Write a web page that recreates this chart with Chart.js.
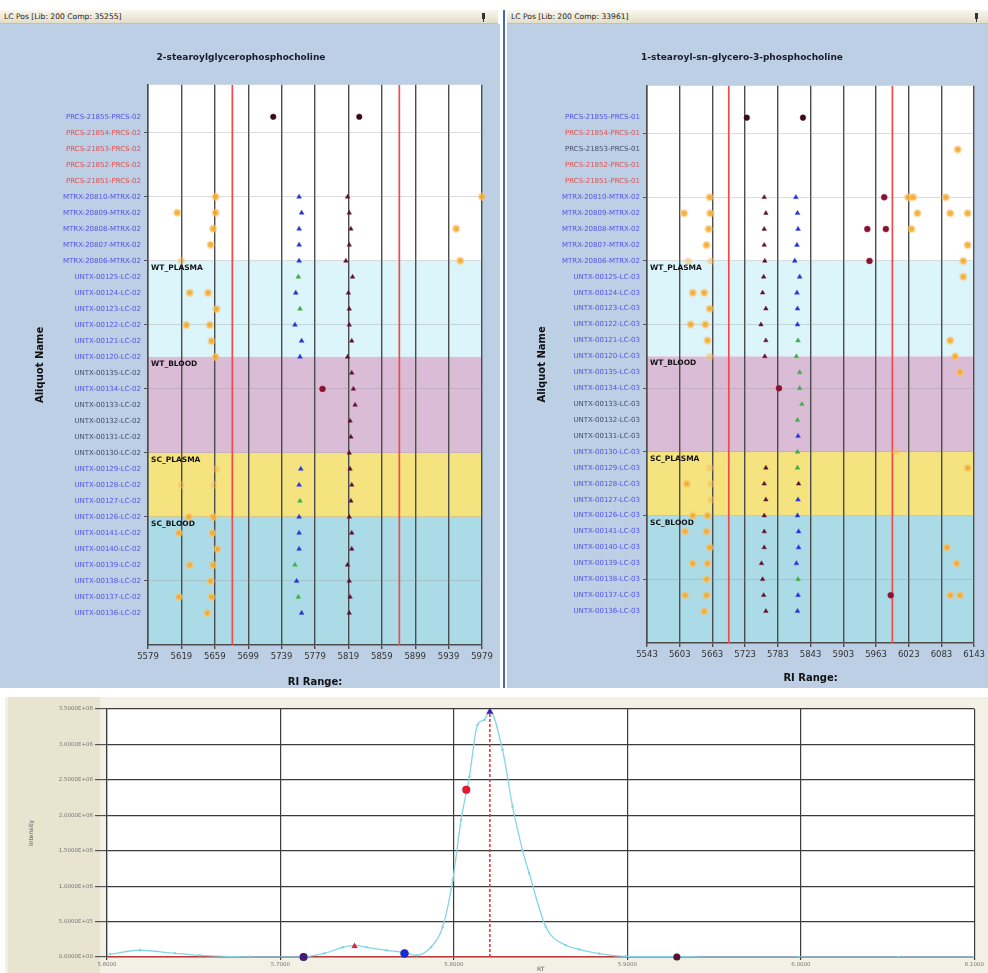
<!DOCTYPE html>
<html>
<head>
<meta charset="utf-8">
<title>LC Pos</title>
<script src="https://cdn.jsdelivr.net/npm/chart.js@4.4.1/dist/chart.umd.min.js"></script>
<style>
  body { margin: 0; width: 988px; height: 973px; background: #fff; position: relative; overflow: hidden;
         font-family: "DejaVu Sans", Verdana, sans-serif; }
  .bar { position: absolute; top: 10px; height: 14px; box-sizing: border-box; padding-left: 4px;
         background: linear-gradient(#f9f7ef, #e3dec9); border-bottom: 1px solid #c8c0a4;
         font-size: 7.6px; line-height: 14px; color: #222; }
  .pin { position: absolute; top: 3px; width: 3px; height: 6px; background: #333; }
  .pin::after { content: ""; position: absolute; left: 1px; top: 6px; width: 1px; height: 3px; background: #333; }
  .panel { position: absolute; top: 24px; height: 664px; background: #bccfe5; }
  canvas { position: absolute; }
</style>
</head>
<body>

<div class="panel" style="left:0;width:500px"></div>
<div class="bar" style="left:0;width:498px">LC Pos [Lib: 200 Comp: 35255]<span class="pin" style="left:482px"></span></div>
<div style="position:absolute;left:503px;top:10px;width:2px;height:678px;background:#4168b8"></div>
<div class="panel" style="left:507px;width:481px"></div>
<div class="bar" style="left:507px;width:481px">LC Pos [Lib: 200 Comp: 33961]<span class="pin" style="left:468px"></span></div>

<div style="position:absolute;left:5px;top:697px;width:983px;height:276px;background:#f3f1e6"></div>
<div style="position:absolute;left:8px;top:697px;width:92px;height:276px;background:#e8e4d0"></div>

<canvas id="left" width="500" height="664" style="left:0;top:24px"></canvas>
<canvas id="right" width="481" height="664" style="left:507px;top:24px"></canvas>
<canvas id="rt" width="977" height="276" style="left:8px;top:697px"></canvas>

<script>
const FONT = '"DejaVu Sans", Verdana, sans-serif';
Chart.defaults.font.family = FONT;

// ---- aliquot rows (top to bottom) ----
const leftAliquots = [
  'PRCS-21855-PRCS-02', 'PRCS-21854-PRCS-02', 'PRCS-21853-PRCS-02', 'PRCS-21852-PRCS-02', 'PRCS-21851-PRCS-02',
  'MTRX-20810-MTRX-02', 'MTRX-20809-MTRX-02', 'MTRX-20808-MTRX-02', 'MTRX-20807-MTRX-02', 'MTRX-20806-MTRX-02',
  'UNTX-00125-LC-02', 'UNTX-00124-LC-02', 'UNTX-00123-LC-02', 'UNTX-00122-LC-02', 'UNTX-00121-LC-02', 'UNTX-00120-LC-02',
  'UNTX-00135-LC-02', 'UNTX-00134-LC-02', 'UNTX-00133-LC-02', 'UNTX-00132-LC-02', 'UNTX-00131-LC-02', 'UNTX-00130-LC-02',
  'UNTX-00129-LC-02', 'UNTX-00128-LC-02', 'UNTX-00127-LC-02', 'UNTX-00126-LC-02',
  'UNTX-00141-LC-02', 'UNTX-00140-LC-02', 'UNTX-00139-LC-02', 'UNTX-00138-LC-02', 'UNTX-00137-LC-02', 'UNTX-00136-LC-02'
];
const rightAliquots = [
  'PRCS-21855-PRCS-01', 'PRCS-21854-PRCS-01', 'PRCS-21853-PRCS-01', 'PRCS-21852-PRCS-01', 'PRCS-21851-PRCS-01',
  'MTRX-20810-MTRX-02', 'MTRX-20809-MTRX-02', 'MTRX-20808-MTRX-02', 'MTRX-20807-MTRX-02', 'MTRX-20806-MTRX-02',
  'UNTX-00125-LC-03', 'UNTX-00124-LC-03', 'UNTX-00123-LC-03', 'UNTX-00122-LC-03', 'UNTX-00121-LC-03', 'UNTX-00120-LC-03',
  'UNTX-00135-LC-03', 'UNTX-00134-LC-03', 'UNTX-00133-LC-03', 'UNTX-00132-LC-03', 'UNTX-00131-LC-03', 'UNTX-00130-LC-03',
  'UNTX-00129-LC-03', 'UNTX-00128-LC-03', 'UNTX-00127-LC-03', 'UNTX-00126-LC-03',
  'UNTX-00141-LC-03', 'UNTX-00140-LC-03', 'UNTX-00139-LC-03', 'UNTX-00138-LC-03', 'UNTX-00137-LC-03', 'UNTX-00136-LC-03'
];
// rows whose name is shown red (excluded) or dark
const leftRedRows = [2, 3, 4, 5];
const leftDarkRows = [17, 19, 20, 21, 22];
const rightRedRows = [2, 4, 5];
const rightDarkRows = [3, 19, 20, 21];
const markedRows = [2, 6, 10, 14, 18, 22, 26, 30];

// sample groups: first row of each group
const groupStarts = [10, 16, 22, 26];
const groupNames = ['WT_PLASMA', 'WT_BLOOD', 'SC_PLASMA', 'SC_BLOOD'];
const groupColors = ['#dcf5fa', '#dbbcd7', '#f5e37f', '#abdbe7'];

// ---- RI axes ----
const leftRiTicks = [5579, 5619, 5659, 5699, 5739, 5779, 5819, 5859, 5899, 5939, 5979];
const rightRiTicks = [5543, 5603, 5663, 5723, 5783, 5843, 5903, 5963, 6023, 6083, 6143];
const leftRiWindow = [5680, 5880];
const rightRiWindow = [5693, 5993];

// ---- left compound: [row, RI] ----
const leftOrange = [
  [6, 5660], [6, 5979], [7, 5614], [7, 5660], [8, 5657], [8, 5948], [9, 5654], [10, 5953],
  [12, 5629], [12, 5651], [13, 5661], [14, 5625], [14, 5653], [15, 5655], [16, 5660],
  [26, 5628], [26, 5657], [27, 5616], [27, 5656], [28, 5662], [29, 5629], [29, 5657],
  [30, 5654], [31, 5616], [31, 5655], [32, 5650]
];
const leftOrangeFaint = [[10, 5619], [23, 5661], [24, 5619], [24, 5658]];
const leftBlue = [
  [6, 5760], [7, 5763], [8, 5760], [9, 5760], [10, 5760], [12, 5756], [14, 5755], [15, 5763], [16, 5761],
  [23, 5762], [24, 5760], [26, 5760], [27, 5760], [28, 5760], [30, 5757], [32, 5763]
];
const leftGreen = [[11, 5759], [13, 5761], [25, 5761], [29, 5755], [31, 5759]];
const leftDark = [
  [6, 5818], [7, 5820], [8, 5822], [9, 5820], [10, 5816], [11, 5824], [12, 5819], [13, 5820], [14, 5820],
  [15, 5823], [16, 5818], [17, 5823], [18, 5825], [19, 5827], [20, 5821], [21, 5822], [22, 5820], [23, 5821],
  [24, 5823], [25, 5822], [26, 5820], [27, 5823], [28, 5823], [29, 5818], [30, 5820], [31, 5821], [32, 5820]
];
const leftBlack = [[1, 5729], [1, 5832]];
const leftRed = [[18, 5788]];

// ---- right compound: [row, RI] ----
const rightOrange = [
  [3, 6113], [6, 5658], [6, 6022], [6, 6031], [6, 6091], [7, 5611], [7, 5659], [7, 6039], [7, 6099], [7, 6131],
  [8, 5656], [8, 6028], [9, 5652], [9, 6131], [10, 6123], [11, 6123], [12, 5627], [12, 5648], [13, 5658],
  [14, 5623], [14, 5650], [15, 5654], [15, 6099], [16, 6108], [17, 6117], [23, 6131], [24, 5616],
  [26, 5627], [26, 5654], [27, 5613], [27, 5652], [28, 5658], [28, 6093], [29, 5627], [29, 5654], [29, 6111],
  [30, 5652], [31, 5613], [31, 5652], [31, 6099], [31, 6117], [32, 5648]
];
const rightOrangeFaint = [[10, 5619], [10, 5660], [16, 5658], [22, 6000], [23, 5658], [24, 5660], [25, 5660]];
const rightBlue = [
  [6, 5816], [7, 5819], [8, 5820], [9, 5818], [10, 5814], [11, 5823], [12, 5818], [13, 5819], [14, 5819],
  [21, 5820], [25, 5820], [26, 5819], [27, 5821], [28, 5821], [29, 5817], [31, 5820], [32, 5819]
];
const rightGreen = [[15, 5820], [16, 5817], [17, 5823], [18, 5823], [19, 5827], [20, 5819], [22, 5819], [23, 5819], [30, 5820]];
const rightDark = [
  [6, 5758], [7, 5761], [8, 5758], [9, 5758], [10, 5759], [11, 5757], [12, 5755], [13, 5761], [14, 5752],
  [15, 5761], [16, 5759], [23, 5761], [24, 5758], [24, 5821], [25, 5761], [26, 5758], [27, 5758], [28, 5758],
  [29, 5753], [30, 5755], [31, 5757], [32, 5761]
];
const rightBlack = [[1, 5726], [1, 5829]];
const rightRed = [[6, 5978], [8, 5947], [8, 5981], [10, 5951], [18, 5785], [31, 5990]];

// ---- RT trace ----
const rtTicks = [5.6, 5.7, 5.8, 5.9, 6.0, 6.1];
const intensityTicks = [0, 5e5, 1e6, 1.5e6, 2e6, 2.5e6, 3e6, 3.5e6];
const traceRt = [
  5.6017, 5.6190, 5.6391, 5.6535, 5.6823, 5.7110, 5.7254, 5.7358, 5.7427, 5.7496, 5.7611, 5.7726,
  5.7784, 5.7868, 5.7935, 5.7993, 5.8041, 5.8089, 5.8136, 5.8175, 5.8207, 5.8280, 5.8338, 5.8395,
  5.8434, 5.8530, 5.8645, 5.8722, 5.8837, 5.8992, 5.9413, 5.9987, 6.0563, 6.0994
];
const traceIntensity = [
  38e3, 95e3, 52e3, 24e3, 3e3, 0, 52e3, 137e3, 165e3, 137e3, 95e3, 57e3,
  24e3, 141e3, 424e3, 1085e3, 1934e3, 2546e3, 3277e3, 3348e3, 3465e3, 2924e3, 2122e3, 1509e3,
  1180e3, 424e3, 165e3, 109e3, 48e3, 10e3, 3e3, 0, 0, 0
];
const peakRt = 5.8207;
const rtPurple = [[5.7133, 0]];
const rtRedTri = [[5.7427, 150e3]];
const rtBlueDot = [[5.7715, 50e3]];
const rtRedDot = [[5.8071, 2.36e6]];
const rtBlueTri = [[5.8207, 3.46e6]];
const rtDarkDot = [[5.9285, 0]];

// white plot area behind the grid
const whitePlot = {
  id: 'whitePlot',
  beforeDraw(chart) {
    const { ctx, chartArea: a } = chart;
    ctx.save();
    ctx.fillStyle = '#ffffff';
    ctx.fillRect(a.left, a.top, a.width, a.height);
    ctx.restore();
  }
};

// coloured sample-group bands with their names
const groupBands = {
  id: 'groupBands',
  beforeDraw(chart, args, opts) {
    const { ctx, chartArea: a, scales: { y } } = chart;
    ctx.save();
    opts.starts.forEach((s, i) => {
      const top = y.getPixelForValue(s);
      const bottom = i + 1 < opts.starts.length ? y.getPixelForValue(opts.starts[i + 1]) : a.bottom;
      ctx.fillStyle = opts.colors[i];
      ctx.fillRect(a.left, top, a.width, bottom - top);
    });
    ctx.restore();
  },
  beforeDatasetsDraw(chart, args, opts) {
    const { ctx, chartArea: a, scales: { y } } = chart;
    ctx.save();
    ctx.font = 'bold 7.5px ' + FONT;
    ctx.fillStyle = '#111';
    ctx.textBaseline = 'middle';
    opts.starts.forEach((s, i) => ctx.fillText(opts.names[i], a.left + 3, y.getPixelForValue(s) + 7));
    ctx.restore();
  }
};

const pts = (pairs, style) => Object.assign({ data: pairs.map(([r, v]) => ({ x: v, y: r })), clip: false, order: 0 }, style);

const sOrange = { pointStyle: 'circle', pointRadius: 3, backgroundColor: 'rgba(245,166,35,0.9)', borderColor: 'rgba(248,200,120,0.5)', borderWidth: 2.5 };
const sOrangeFaint = { pointStyle: 'circle', pointRadius: 3, backgroundColor: 'rgba(245,175,60,0.4)', borderColor: 'rgba(248,205,130,0.3)', borderWidth: 2 };
const sBlue = { pointStyle: 'triangle', pointRadius: 2.8, backgroundColor: '#2430d0', borderColor: 'rgba(70,80,230,0.5)', borderWidth: 1 };
const sGreen = { pointStyle: 'triangle', pointRadius: 2.8, backgroundColor: '#3aaa44', borderColor: 'rgba(90,190,90,0.5)', borderWidth: 1 };
const sDark = { pointStyle: 'triangle', pointRadius: 2.6, backgroundColor: '#5a0f2a', borderColor: 'rgba(110,30,60,0.5)', borderWidth: 1 };
const sBlack = { pointStyle: 'circle', pointRadius: 2.8, backgroundColor: '#3a0a18', borderColor: 'rgba(80,20,40,0.5)', borderWidth: 1 };
const sRed = { pointStyle: 'circle', pointRadius: 3, backgroundColor: '#8a1030', borderColor: 'rgba(160,40,70,0.5)', borderWidth: 1 };

function riPanel(id, p) {
  const nameColor = v => p.redRows.includes(v) ? 'rgba(225,70,70,0.9)'
    : p.darkRows.includes(v) ? 'rgba(50,50,80,0.85)' : 'rgba(60,60,230,0.85)';
  const limitSets = p.window.map(v => ({
    data: [{ x: v, y: -1 }, { x: v, y: 34 }], showLine: true, borderColor: '#f04a4a', borderWidth: 1.7, pointRadius: 0, order: 10
  }));
  return new Chart(document.getElementById(id), {
    type: 'scatter',
    data: {
      datasets: limitSets.concat([
        pts(p.orangeFaint, sOrangeFaint), pts(p.orange, sOrange), pts(p.blue, sBlue), pts(p.green, sGreen),
        pts(p.dark, sDark), pts(p.black, sBlack), pts(p.red, sRed)
      ])
    },
    options: {
      responsive: false,
      animation: false,
      layout: { padding: { top: 0, right: p.padRight, bottom: 0, left: 0 } },
      plugins: {
        legend: { display: false },
        tooltip: { enabled: false },
        title: { display: true, text: p.title, color: '#1a1a2a', font: { size: 9, weight: 'bold' }, padding: { top: 28, bottom: p.titleGap } },
        groupBands: { starts: groupStarts, names: groupNames, colors: groupColors }
      },
      scales: {
        x: {
          type: 'linear', min: p.ticks[0], max: p.ticks[p.ticks.length - 1],
          afterBuildTicks: s => { s.ticks = p.ticks.map(v => ({ value: v })); },
          afterFit: s => { s.height = p.xHeight; },
          grid: { color: '#4c4c4c', lineWidth: 1.4, tickLength: 4, tickColor: '#4c4c4c' },
          border: { color: '#4c4c4c', width: 1.5 },
          ticks: { color: '#333', font: { size: 8.5 }, padding: 3, maxRotation: 0, autoSkip: false, callback: v => String(v) },
          title: { display: true, text: 'RI Range:', color: '#111', font: { size: 10, weight: 'bold' }, padding: { top: 0, bottom: p.xTitlePad } }
        },
        y: {
          type: 'linear', reverse: true, min: -1, max: 34,
          afterBuildTicks: s => { s.ticks = p.names.map((n, i) => ({ value: i + 1 })); },
          afterFit: s => { s.width = p.yWidth; },
          grid: {
            color: c => markedRows.includes(c.tick.value) ? 'rgba(140,140,140,0.3)' : 'rgba(0,0,0,0)',
            tickColor: c => markedRows.includes(c.tick.value) ? '#555' : 'rgba(0,0,0,0)',
            tickLength: 4, lineWidth: 1
          },
          border: { color: '#4c4c4c', width: 1.5 },
          ticks: {
            autoSkip: false, padding: 3, font: { size: 7 },
            color: c => nameColor(c.tick.value),
            callback: v => p.names[v - 1] || ''
          },
          title: { display: true, text: 'Aliquot Name', color: '#111', font: { size: 10, weight: 'bold' }, padding: { top: p.yTitlePad, bottom: 0 } }
        }
      }
    },
    plugins: [whitePlot, groupBands]
  });
}

riPanel('left', {
  title: '2-stearoylglycerophosphocholine', names: leftAliquots, ticks: leftRiTicks, window: leftRiWindow,
  redRows: leftRedRows, darkRows: leftDarkRows,
  orange: leftOrange, orangeFaint: leftOrangeFaint, blue: leftBlue, green: leftGreen, dark: leftDark, black: leftBlack, red: leftRed,
  padRight: 18, titleGap: 22, xHeight: 43, xTitlePad: 0, yWidth: 148, yTitlePad: 34
});

riPanel('right', {
  title: '1-stearoyl-sn-glycero-3-phosphocholine', names: rightAliquots, ticks: rightRiTicks, window: rightRiWindow,
  redRows: rightRedRows, darkRows: rightDarkRows,
  orange: rightOrange, orangeFaint: rightOrangeFaint, blue: rightBlue, green: rightGreen, dark: rightDark, black: rightBlack, red: rightRed,
  padRight: 11, titleGap: 23, xHeight: 45, xTitlePad: 4, yWidth: 140, yTitlePad: 29
});

// ---- RT trace chart ----
const sci = v => {
  const [m, e] = v.toExponential(4).split('e');
  const n = Math.abs(+e);
  return m + 'E' + (+e < 0 ? '-' : '+') + (n < 10 ? '0' : '') + n;
};
const mark = (pairs, style) => Object.assign({ data: pairs.map(([x, y]) => ({ x, y })), clip: false, order: 0 }, style);

new Chart(document.getElementById('rt'), {
  type: 'scatter',
  data: {
    datasets: [
      mark(rtBlueTri, { pointStyle: 'triangle', pointRadius: 4, backgroundColor: '#3a22c0' }),
      mark(rtRedDot, { pointStyle: 'circle', pointRadius: 4, backgroundColor: '#e81830' }),
      mark(rtBlueDot, { pointStyle: 'circle', pointRadius: 4.2, backgroundColor: '#1a2ad0' }),
      mark(rtRedTri, { pointStyle: 'triangle', pointRadius: 3.5, backgroundColor: '#e02838' }),
      mark(rtPurple, { pointStyle: 'circle', pointRadius: 4, backgroundColor: '#4a1a78' }),
      mark(rtDarkDot, { pointStyle: 'circle', pointRadius: 3.5, backgroundColor: '#5a1030' }),
      {
        data: traceRt.map((x, i) => ({ x, y: traceIntensity[i] })), showLine: true, order: 1,
        borderColor: '#86d4e6', borderWidth: 1.3, cubicInterpolationMode: 'monotone',
        pointRadius: 1.3, pointBackgroundColor: '#86d4e6', pointBorderWidth: 0
      },
      {
        data: [{ x: peakRt, y: 0 }, { x: peakRt, y: intensityTicks[intensityTicks.length - 1] }], showLine: true, order: 2,
        borderColor: '#e82828', borderWidth: 1.5, borderDash: [3, 2], pointRadius: 0
      },
      {
        data: [{ x: rtTicks[0], y: 0 }, { x: rtTicks[rtTicks.length - 1], y: 0 }], showLine: true, order: 3,
        borderColor: '#e03a3a', borderWidth: 1.6, pointRadius: 0
      }
    ]
  },
  options: {
    responsive: false,
    animation: false,
    layout: { padding: { top: 12, right: 9, bottom: 0, left: 0 } },
    plugins: { legend: { display: false }, tooltip: { enabled: false } },
    scales: {
      x: {
        type: 'linear', min: rtTicks[0], max: rtTicks[rtTicks.length - 1],
        afterBuildTicks: s => { s.ticks = rtTicks.map(v => ({ value: v })); },
        afterFit: s => { s.height = 16; },
        grid: { color: '#3c3c3c', lineWidth: 1.2, tickLength: 3, tickColor: '#3c3c3c' },
        border: { color: '#3c3c3c', width: 1.2 },
        ticks: { color: '#777', font: { size: 5.5 }, padding: 1, maxRotation: 0, autoSkip: false, callback: v => v.toFixed(4) },
        title: { display: true, text: 'RT', color: '#555', font: { size: 6 }, padding: { top: 0, bottom: 0 } }
      },
      y: {
        type: 'linear', min: 0, max: intensityTicks[intensityTicks.length - 1],
        afterBuildTicks: s => { s.ticks = intensityTicks.map(v => ({ value: v })); },
        afterFit: s => { s.width = 99; },
        grid: { color: '#3c3c3c', lineWidth: 1.2, tickLength: 12, tickColor: '#555' },
        border: { color: '#3c3c3c', width: 1.2 },
        ticks: { color: '#777', font: { size: 5.5 }, padding: 2, autoSkip: false, callback: v => sci(v) },
        title: { display: true, text: 'Intensity', color: '#555', font: { size: 6 }, padding: { top: 20, bottom: 0 } }
      }
    }
  },
  plugins: [whitePlot]
});
</script>
</body>
</html>
